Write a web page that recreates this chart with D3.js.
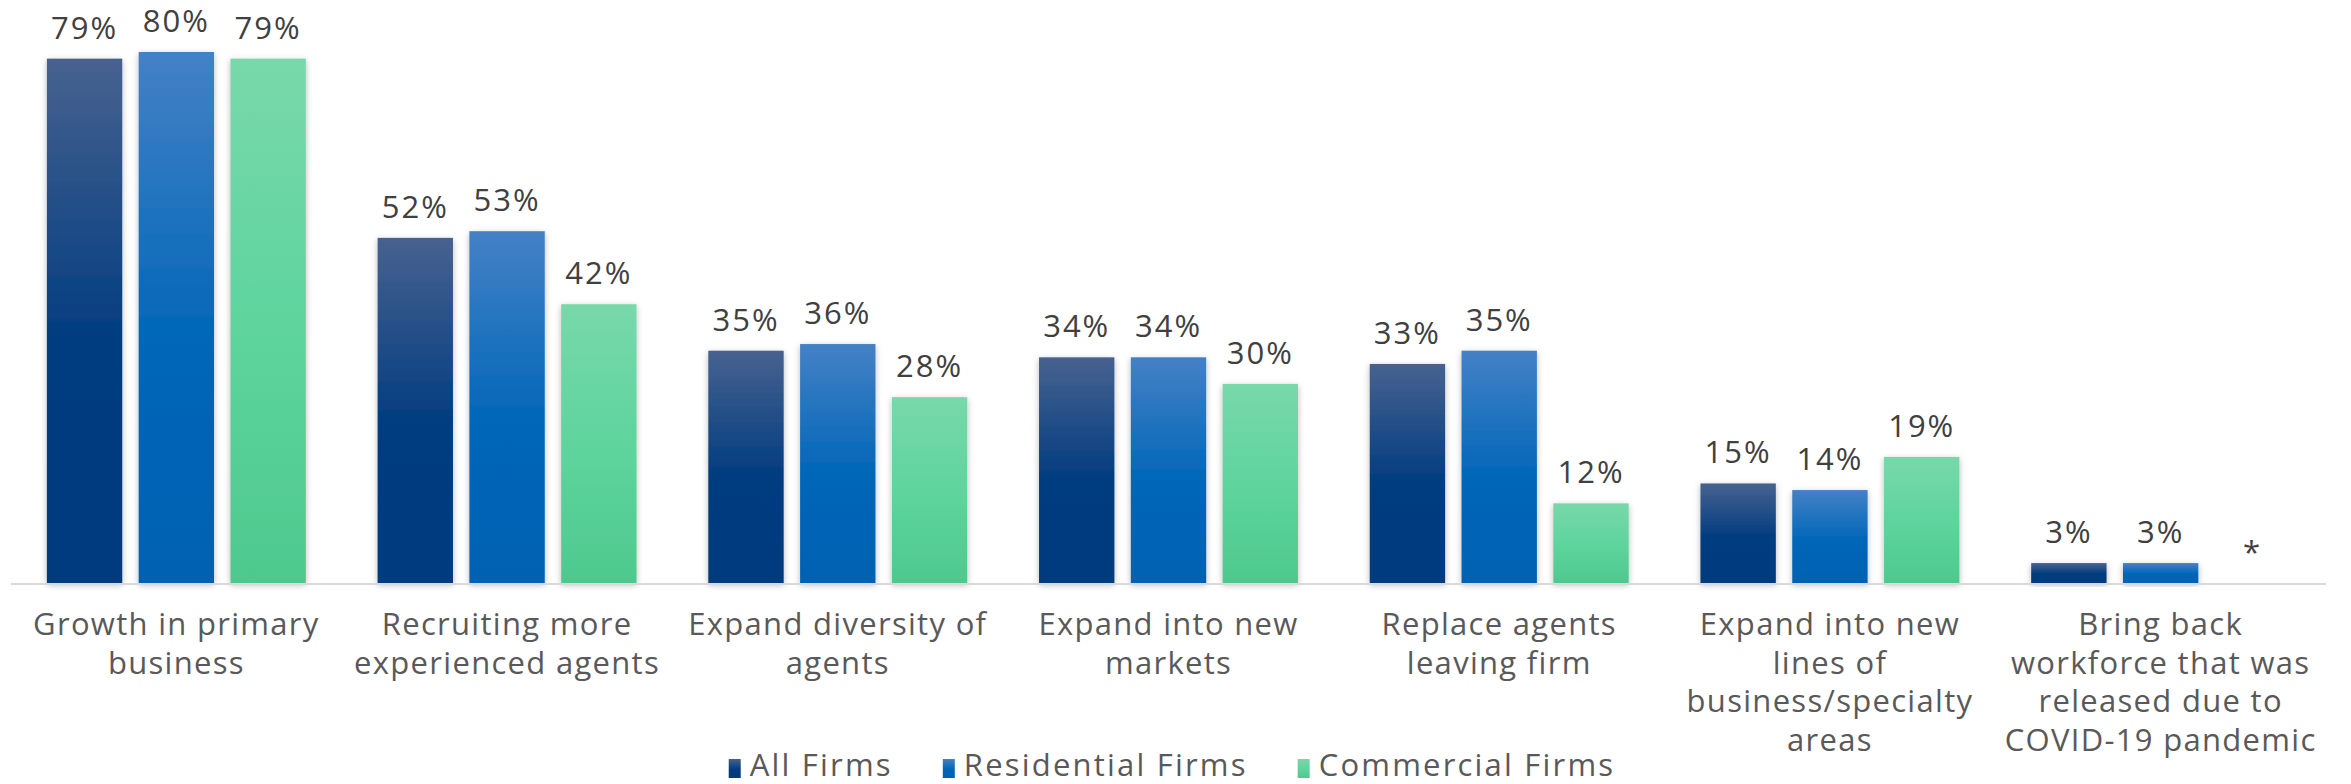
<!DOCTYPE html>
<html>
<head>
<meta charset="utf-8">
<script src="https://cdn.jsdelivr.net/npm/d3@7"></script>
<style>
  html, body { margin: 0; padding: 0; background: #ffffff; }
  svg { display: block; font-family: "Open Sans", "Noto Sans", sans-serif; }
</style>
</head>
<body>
<svg id="chart" width="2351" height="784"></svg>
<script>
// Survey categories (each entry holds the wrapped lines of its axis label)
const categories = [
  ["Growth in primary", "business"],
  ["Recruiting more", "experienced agents"],
  ["Expand diversity of", "agents"],
  ["Expand into new", "markets"],
  ["Replace agents", "leaving firm"],
  ["Expand into new", "lines of", "business/specialty", "areas"],
  ["Bring back", "workforce that was", "released due to", "COVID-19 pandemic"]
];

const seriesNames = ["All Firms", "Residential Firms", "Commercial Firms"];

// Percent of respondents; null = no reported value (shown as "*")
const allFirms         = [79, 52, 35, 34, 33, 15, 3];
const residentialFirms = [80, 53, 36, 34, 35, 14, 3];
const commercialFirms  = [79, 42, 28, 30, 12, 19, null];

const seriesValues = [allFirms, residentialFirms, commercialFirms];

// Gradient stops per series: [top, middle, bottom]
const seriesColors = [
  ["#47628f", "#003c80", "#003a7e"],
  ["#4481c5", "#0066b8", "#0061b2"],
  ["#78d8aa", "#5cd49c", "#4ec98e"]
];

const svg = d3.select("#chart");
const defs = svg.append("defs");

seriesColors.forEach((c, i) => {
  const g = defs.append("linearGradient")
    .attr("id", "grad" + i)
    .attr("x1", 0).attr("y1", 0).attr("x2", 0).attr("y2", 1);
  g.append("stop").attr("offset", "0%").attr("stop-color", c[0]);
  g.append("stop").attr("offset", "55%").attr("stop-color", c[1]);
  g.append("stop").attr("offset", "100%").attr("stop-color", c[2]);
});

const shadow = defs.append("filter")
  .attr("id", "barShadow")
  .attr("x", "-20%").attr("y", "-20%").attr("width", "140%").attr("height", "140%");
shadow.append("feDropShadow")
  .attr("dx", 0).attr("dy", 2)
  .attr("stdDeviation", 3)
  .attr("flood-color", "#000")
  .attr("flood-opacity", 0.28);

const baseline = 583;

const x0 = d3.scaleBand()
  .domain(d3.range(categories.length))
  .range([11, 2326]);

const x1 = d3.scaleBand()
  .domain(d3.range(seriesNames.length))
  .range([0, x0.bandwidth()])
  .paddingInner(0.179)
  .paddingOuter(0.391);

const y = d3.scaleLinear()
  .domain([0, 80])
  .range([baseline, 52]);

// Bars
const groups = svg.append("g").selectAll("g")
  .data(categories.map((c, i) => i))
  .join("g")
  .attr("transform", i => `translate(${x0(i)},0)`);

groups.selectAll("rect")
  .data(i => seriesValues.map((vals, s) => ({ s, v: vals[i] })).filter(d => d.v != null))
  .join("rect")
  .attr("x", d => x1(d.s))
  .attr("y", d => y(d.v))
  .attr("width", x1.bandwidth())
  .attr("height", d => baseline - y(d.v))
  .attr("fill", d => `url(#grad${d.s})`)
  .attr("filter", "url(#barShadow)");

// Axis baseline
svg.append("line")
  .attr("x1", 11).attr("x2", 2326)
  .attr("y1", baseline + 1).attr("y2", baseline + 1)
  .attr("stroke", "#d9d9d9")
  .attr("stroke-width", 2);

// Value labels
groups.selectAll("text.value")
  .data(i => seriesValues.map((vals, s) => ({ s, v: vals[i] })))
  .join("text")
  .attr("class", "value")
  .attr("x", d => x1(d.s) + x1.bandwidth() / 2)
  .attr("y", d => (d.v == null ? y(0) : y(d.v)) - 20)
  .attr("text-anchor", "middle")
  .attr("font-size", 31)
  .attr("letter-spacing", 2)
  .attr("fill", "#404040")
  .text(d => d.v == null ? "*" : d.v + "%");

// Category labels
const labels = svg.append("g").selectAll("text")
  .data(categories)
  .join("text")
  .attr("text-anchor", "middle")
  .attr("font-size", 31)
  .attr("letter-spacing", 1.3)
  .attr("fill", "#595959")
  .attr("transform", (d, i) => `translate(${x0(i) + x0.bandwidth() / 2},635)`);

labels.selectAll("tspan")
  .data(d => d)
  .join("tspan")
  .attr("x", 0)
  .attr("y", (d, j) => j * 38.5)
  .text(d => d);

// Legend
const legend = svg.append("g");
const items = legend.selectAll("g")
  .data(seriesNames)
  .join("g");

items.append("rect")
  .attr("width", 12)
  .attr("height", 19)
  .attr("y", -17)
  .attr("fill", (d, i) => `url(#grad${i})`);

items.append("text")
  .attr("x", 21)
  .attr("font-size", 31)
  .attr("letter-spacing", 2.2)
  .attr("fill", "#595959")
  .text(d => d);

let cursor = 0;
const spacing = 50;
items.each(function () {
  const g = d3.select(this);
  g.attr("transform", `translate(${cursor},0)`);
  cursor += 21 + g.select("text").node().getComputedTextLength() + spacing;
});
const legendWidth = cursor - spacing;
legend.attr("transform", `translate(${1172 - legendWidth / 2},776)`);
</script>
</body>
</html>
